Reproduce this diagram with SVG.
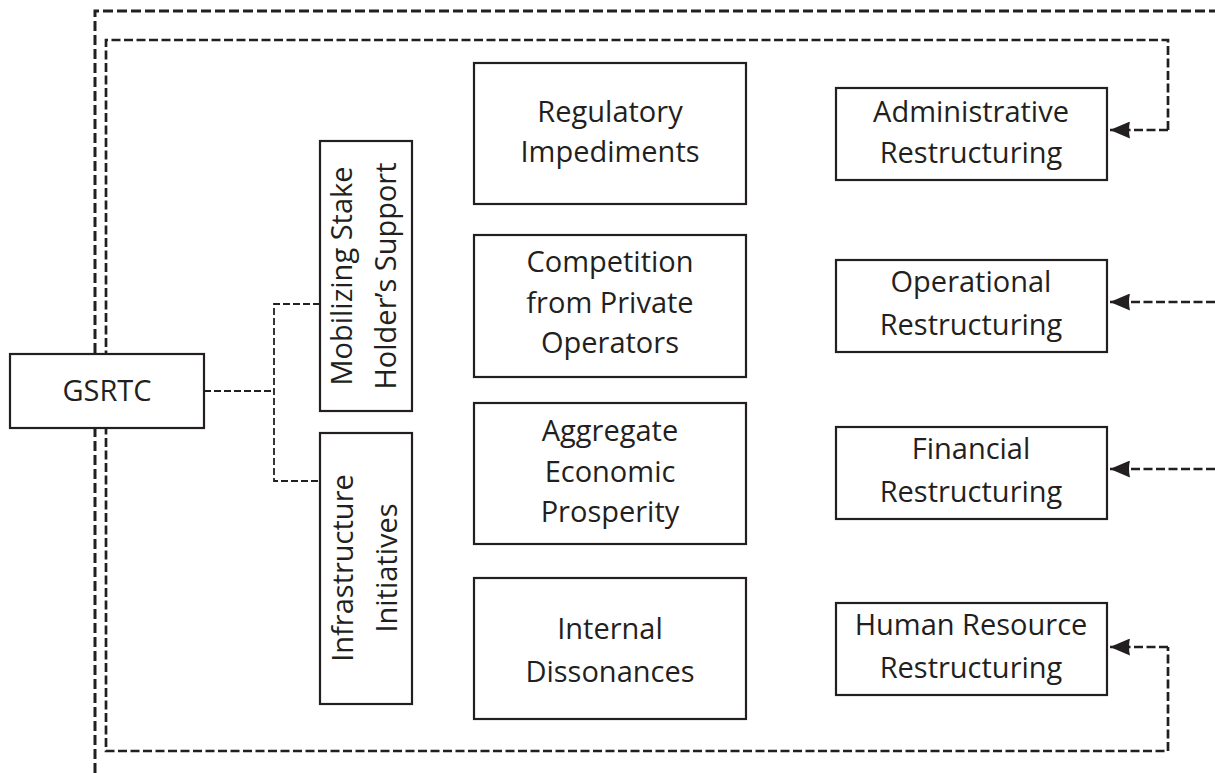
<svg xmlns="http://www.w3.org/2000/svg" width="1215" height="773" viewBox="0 0 1215 773">
  <style>
    .box { fill: #ffffff; stroke: #231f20; stroke-width: 2.2; }
    .lbl { font-family: "Open Sans", "Noto Sans", "Liberation Sans", sans-serif; font-size: 29px; fill: #231f20; text-anchor: middle; }
    .loop { fill: none; stroke: #231f20; stroke-width: 2.7; stroke-dasharray: 9 3.5; }
    .outer { fill: none; stroke: #231f20; stroke-width: 3; stroke-dasharray: 10 4; }
    .link { fill: none; stroke: #231f20; stroke-width: 1.8; stroke-dasharray: 7 3; }
  </style>
  <defs>
    <marker id="head" viewBox="0 0 20 17" refX="20" refY="8.5" markerWidth="20" markerHeight="17" markerUnits="userSpaceOnUse" orient="auto">
      <path d="M0,0 L20,8.5 L0,17 Q2,8.5 0,0 Z" fill="#231f20"/>
    </marker>
  </defs>

  <rect width="1215" height="773" fill="#ffffff"/>

  <!-- connectors -->
  <g id="connectors">
    <!-- outer feedback frame -->
    <path class="outer" d="M95,773 L95,11 L1215,11"/>
    <!-- inner feedback loop -->
    <path class="loop" d="M1168,130 L1168,40 L106,40 L106,751 L1168,751 L1168,647"/>
    <path class="loop" d="M1168,130 L1110,130" marker-end="url(#head)"/>
    <path class="loop" d="M1168,647 L1110,647" marker-end="url(#head)"/>
    <path class="loop" d="M1215,302 L1110,302" marker-end="url(#head)"/>
    <path class="loop" d="M1215,469 L1110,469" marker-end="url(#head)"/>
    <!-- GSRTC branches -->
    <path class="link" d="M204,391 L274,391"/>
    <path class="link" d="M320,304 L274,304 L274,481 L320,481"/>
  </g>

  <g id="gsrtc">
    <rect class="box" x="10" y="354" width="194" height="74"/>
    <text class="lbl" x="107" y="401">GSRTC</text>
  </g>

  <g id="mobilizing">
    <rect class="box" x="320" y="141" width="92" height="270"/>
    <text class="lbl" transform="translate(352,276) rotate(-90)">Mobilizing Stake</text>
    <text class="lbl" transform="translate(396,276) rotate(-90)">Holder’s Support</text>
  </g>

  <g id="infrastructure">
    <rect class="box" x="320" y="433" width="92" height="271"/>
    <text class="lbl" transform="translate(353,568) rotate(-90)">Infrastructure</text>
    <text class="lbl" transform="translate(397,568) rotate(-90)">Initiatives</text>
  </g>

  <g id="regulatory">
    <rect class="box" x="474" y="63" width="272" height="141"/>
    <text class="lbl" x="610" y="122">Regulatory</text>
    <text class="lbl" x="610" y="162">Impediments</text>
  </g>

  <g id="competition">
    <rect class="box" x="474" y="235" width="272" height="142"/>
    <text class="lbl" x="610" y="272">Competition</text>
    <text class="lbl" x="610" y="313">from Private</text>
    <text class="lbl" x="610" y="353">Operators</text>
  </g>

  <g id="aggregate">
    <rect class="box" x="474" y="403" width="272" height="141"/>
    <text class="lbl" x="610" y="441">Aggregate</text>
    <text class="lbl" x="610" y="482">Economic</text>
    <text class="lbl" x="610" y="522">Prosperity</text>
  </g>

  <g id="internal">
    <rect class="box" x="474" y="578" width="272" height="141"/>
    <text class="lbl" x="610" y="639">Internal</text>
    <text class="lbl" x="610" y="682">Dissonances</text>
  </g>

  <g id="administrative">
    <rect class="box" x="836" y="88" width="271" height="92"/>
    <text class="lbl" x="971" y="122">Administrative</text>
    <text class="lbl" x="971" y="163">Restructuring</text>
  </g>

  <g id="operational">
    <rect class="box" x="836" y="260" width="271" height="92"/>
    <text class="lbl" x="971" y="292">Operational</text>
    <text class="lbl" x="971" y="335">Restructuring</text>
  </g>

  <g id="financial">
    <rect class="box" x="836" y="427" width="271" height="92"/>
    <text class="lbl" x="971" y="459">Financial</text>
    <text class="lbl" x="971" y="502">Restructuring</text>
  </g>

  <g id="human-resource">
    <rect class="box" x="836" y="603" width="271" height="92"/>
    <text class="lbl" x="971" y="635">Human Resource</text>
    <text class="lbl" x="971" y="678">Restructuring</text>
  </g>
</svg>
